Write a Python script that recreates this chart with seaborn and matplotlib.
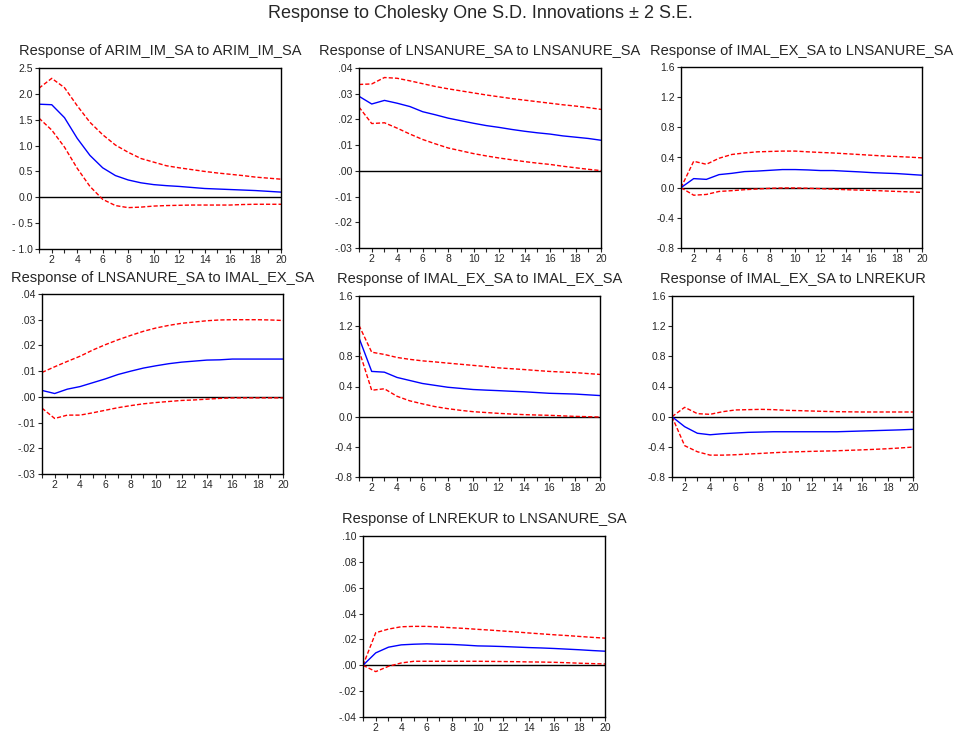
import numpy as np
import pandas as pd
import seaborn as sns
import matplotlib.pyplot as plt

periods = list(range(1, 21))

titles = [
    "Response of ARIM_IM_SA to ARIM_IM_SA",
    "Response of LNSANURE_SA to LNSANURE_SA",
    "Response of IMAL_EX_SA to LNSANURE_SA",
    "Response of LNSANURE_SA to IMAL_EX_SA",
    "Response of IMAL_EX_SA to IMAL_EX_SA",
    "Response of IMAL_EX_SA to LNREKUR",
    "Response of LNREKUR to LNSANURE_SA",
]

# impulse responses (blue) and +/- 2 S.E. bands (red)
resp_1 = [1.80, 1.79, 1.54, 1.14, 0.81, 0.57, 0.42, 0.335, 0.28, 0.245,
          0.225, 0.21, 0.19, 0.17, 0.16, 0.15, 0.14, 0.13, 0.115, 0.10]
upper_1 = [2.11, 2.30, 2.12, 1.77, 1.45, 1.21, 1.01, 0.87, 0.75, 0.68,
           0.61, 0.57, 0.535, 0.50, 0.47, 0.445, 0.42, 0.39, 0.37, 0.35]
lower_1 = [1.53, 1.30, 0.97, 0.56, 0.21, -0.04, -0.16, -0.20, -0.19, -0.17,
           -0.16, -0.155, -0.15, -0.15, -0.15, -0.15, -0.14, -0.135, -0.135, -0.135]

resp_2 = [0.0290, 0.0260, 0.0274, 0.0263, 0.0250, 0.0230, 0.0218, 0.0205, 0.0195, 0.0185,
          0.0176, 0.0169, 0.0161, 0.0154, 0.0148, 0.0143, 0.0136, 0.0131, 0.0126, 0.0119]
upper_2 = [0.0336, 0.0338, 0.0363, 0.0360, 0.0350, 0.0339, 0.0328, 0.0319, 0.0311, 0.0303,
           0.0295, 0.0288, 0.0281, 0.0275, 0.0269, 0.0263, 0.0257, 0.0252, 0.0246, 0.0239]
lower_2 = [0.0248, 0.0184, 0.0187, 0.0166, 0.0143, 0.0122, 0.0105, 0.0089, 0.0078, 0.0067,
           0.0058, 0.0050, 0.0043, 0.0036, 0.0030, 0.0025, 0.0018, 0.0012, 0.0006, 0.0001]

resp_3 = [0.0, 0.12, 0.11, 0.173, 0.19, 0.213, 0.22, 0.23, 0.24, 0.24,
          0.235, 0.227, 0.227, 0.218, 0.21, 0.20, 0.193, 0.187, 0.176, 0.165]
upper_3 = [0.0, 0.35, 0.31, 0.39, 0.44, 0.46, 0.475, 0.48, 0.485, 0.485,
           0.475, 0.467, 0.46, 0.45, 0.44, 0.43, 0.42, 0.413, 0.405, 0.395]
lower_3 = [0.0, -0.10, -0.09, -0.05, -0.04, -0.027, -0.018, -0.009, -0.004, -0.004,
           -0.008, -0.013, -0.02, -0.027, -0.032, -0.036, -0.043, -0.05, -0.056, -0.062]

resp_4 = [0.0025, 0.0013, 0.0030, 0.0040, 0.0055, 0.0070, 0.0087, 0.0100, 0.0112, 0.0121,
          0.0129, 0.0135, 0.0139, 0.0143, 0.0144, 0.0147, 0.0147, 0.0147, 0.0147, 0.0147]
upper_4 = [0.0095, 0.0117, 0.0138, 0.0158, 0.0182, 0.0203, 0.0222, 0.0239, 0.0255, 0.0268,
           0.0278, 0.0286, 0.0291, 0.0296, 0.0299, 0.0300, 0.0300, 0.0300, 0.0299, 0.0297]
lower_4 = [-0.0044, -0.0084, -0.0071, -0.0071, -0.0062, -0.0052, -0.0042, -0.0034, -0.0027, -0.0022,
           -0.0018, -0.0014, -0.0012, -0.0009, -0.0006, -0.0004, -0.0004, -0.0004, -0.0004, -0.0004]

resp_5 = [1.045, 0.60, 0.59, 0.52, 0.48, 0.44, 0.415, 0.39, 0.375, 0.36,
          0.352, 0.345, 0.337, 0.33, 0.32, 0.31, 0.305, 0.30, 0.29, 0.28]
upper_5 = [1.21, 0.855, 0.825, 0.785, 0.76, 0.74, 0.726, 0.71, 0.695, 0.68,
           0.665, 0.647, 0.636, 0.625, 0.612, 0.60, 0.592, 0.585, 0.572, 0.56]
lower_5 = [0.88, 0.35, 0.37, 0.27, 0.21, 0.17, 0.133, 0.106, 0.084, 0.066,
           0.055, 0.044, 0.035, 0.027, 0.022, 0.018, 0.011, 0.004, 0.0, -0.005]

resp_6 = [0.0, -0.133, -0.22, -0.24, -0.226, -0.217, -0.208, -0.204, -0.20, -0.20,
          -0.20, -0.20, -0.20, -0.20, -0.195, -0.19, -0.185, -0.18, -0.175, -0.168]
upper_6 = [0.0, 0.124, 0.04, 0.031, 0.066, 0.089, 0.093, 0.097, 0.093, 0.084,
           0.08, 0.075, 0.07, 0.066, 0.064, 0.062, 0.062, 0.062, 0.062, 0.062]
lower_6 = [0.0, -0.385, -0.465, -0.51, -0.51, -0.505, -0.496, -0.487, -0.478, -0.47,
           -0.465, -0.46, -0.456, -0.452, -0.446, -0.44, -0.433, -0.425, -0.415, -0.403]

resp_7 = [0.0, 0.0096, 0.0140, 0.0158, 0.0163, 0.0166, 0.0163, 0.0161, 0.0156, 0.0150,
          0.0148, 0.0145, 0.0141, 0.0137, 0.0134, 0.0130, 0.0125, 0.0120, 0.0114, 0.0109]
upper_7 = [0.0, 0.0252, 0.0280, 0.0298, 0.0301, 0.0301, 0.0296, 0.0290, 0.0285, 0.0278,
           0.0272, 0.0265, 0.0258, 0.0250, 0.0243, 0.0236, 0.0230, 0.0223, 0.0216, 0.0210]
lower_7 = [0.0, -0.0049, -0.0008, 0.0018, 0.0031, 0.0031, 0.0031, 0.0031, 0.0031, 0.0031,
           0.0030, 0.0029, 0.0028, 0.0026, 0.0025, 0.0023, 0.0020, 0.0016, 0.0013, 0.0010]

responses = [resp_1, resp_2, resp_3, resp_4, resp_5, resp_6, resp_7]
uppers = [upper_1, upper_2, upper_3, upper_4, upper_5, upper_6, upper_7]
lowers = [lower_1, lower_2, lower_3, lower_4, lower_5, lower_6, lower_7]

# y tick values and labels (EViews style)
yticks_a = [-1.0, -0.5, 0.0, 0.5, 1.0, 1.5, 2.0, 2.5]
ylabels_a = ["- 1.0", "- 0.5", "0.0", "0.5", "1.0", "1.5", "2.0", "2.5"]
yticks_b = [-0.03, -0.02, -0.01, 0.0, 0.01, 0.02, 0.03, 0.04]
ylabels_b = ["-.03", "-.02", "-.01", ".00", ".01", ".02", ".03", ".04"]
yticks_c = [-0.8, -0.4, 0.0, 0.4, 0.8, 1.2, 1.6]
ylabels_c = ["-0.8", "-0.4", "0.0", "0.4", "0.8", "1.2", "1.6"]
yticks_d = [-0.04, -0.02, 0.0, 0.02, 0.04, 0.06, 0.08, 0.10]
ylabels_d = ["-.04", "-.02", ".00", ".02", ".04", ".06", ".08", ".10"]
ytick_sets = [(yticks_a, ylabels_a), (yticks_b, ylabels_b), (yticks_c, ylabels_c),
              (yticks_b, ylabels_b), (yticks_c, ylabels_c), (yticks_c, ylabels_c),
              (yticks_d, ylabels_d)]

# axes rectangles in pixels: left, top, right, bottom
W, H = 961, 736
boxes = [
    (39, 68, 281, 249),
    (359, 68, 601, 248),
    (681, 67, 922, 248),
    (42, 294, 283, 474),
    (359, 296, 600, 477),
    (672, 296, 913, 477),
    (363, 536, 605, 717),
]

sns.set_style("ticks")
plt.rcParams['font.family'] = ['Liberation Sans', 'DejaVu Sans']

fig = plt.figure(figsize=(W / 100, H / 100), dpi=100)
fig.text(0.5, 1 - 14 / H, "Response to Cholesky One S.D. Innovations \u00b1 2 S.E.",
         ha="center", va="center", fontsize=13)

for i, (l, t, r, b) in enumerate(boxes):
    ax = fig.add_axes([l / W, 1 - b / H, (r - l) / W, (b - t) / H])
    df = pd.DataFrame({"period": periods, "resp": responses[i],
                       "upper": uppers[i], "lower": lowers[i]})
    ax.axhline(0, color="black", lw=1.0, zorder=1)
    sns.lineplot(data=df, x="period", y="upper", ax=ax, color="red",
                 lw=1.0, linestyle=(0, (3, 1.5)))
    sns.lineplot(data=df, x="period", y="lower", ax=ax, color="red",
                 lw=1.0, linestyle=(0, (3, 1.5)))
    sns.lineplot(data=df, x="period", y="resp", ax=ax, color="blue", lw=1.0)
    ax.set_xlim(1, 20)
    yt, yl = ytick_sets[i]
    ax.set_ylim(yt[0], yt[-1])
    ax.set_yticks(yt)
    ax.set_yticklabels(yl)
    ax.set_xticks(periods)
    ax.set_xticklabels([str(p) if p % 2 == 0 else "" for p in periods])
    ax.set_xlabel("")
    ax.set_ylabel("")
    ax.tick_params(direction="out", length=3, width=0.8, labelsize=7.5, pad=1.5)
    for s in ax.spines.values():
        s.set_linewidth(1.0)
        s.set_color("black")
    ax.set_title(titles[i], fontsize=10.5, pad=9)

fig.savefig("out.png", dpi=100)
